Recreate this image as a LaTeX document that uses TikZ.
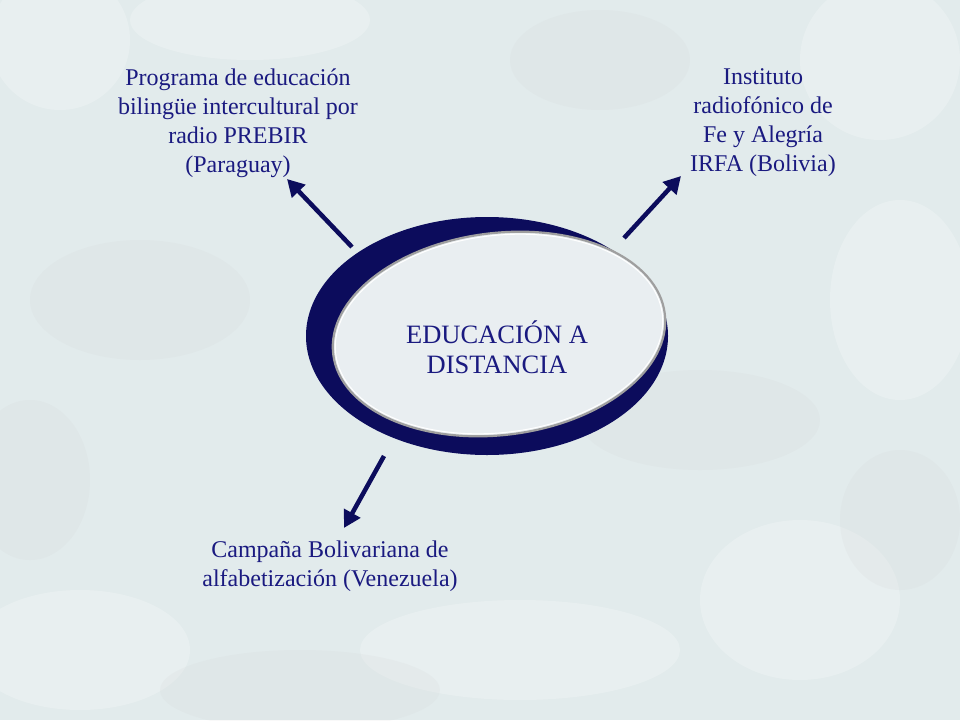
\documentclass[tikz,border=0pt]{standalone}
\usepackage{fontspec}
\setmainfont{Liberation Serif}
\definecolor{bgbase}{HTML}{E2EBEC}
\definecolor{navy}{HTML}{0C0C5C}
\definecolor{txtblue}{HTML}{1A1A80}
\definecolor{innerfill}{HTML}{E9EEF1}
\tikzset{
  label/.style={align=center, text=txtblue, font=\fontsize{24}{29}\selectfont, inner sep=0pt},
  centerlabel/.style={align=center, text=txtblue, font=\fontsize{26.5}{30}\selectfont, inner sep=0pt},
  arr/.style={draw=navy, line width=4.5pt, -{Triangle[length=17pt,width=18pt]}},
  blob/.style={fill=white, opacity=0.22},
  gblob/.style={fill=gray!40, opacity=0.12}
}
\usetikzlibrary{arrows.meta}
\begin{document}
\begin{tikzpicture}[x=1pt,y=-1pt]
\useasboundingbox (0,0) rectangle (960,720);
\fill[bgbase] (0,0) rectangle (960,720);
% soft background texture
\fill[blob] (60,40) circle (70);
\fill[blob] (250,20) ellipse (120 and 40);
\fill[blob] (880,60) circle (80);
\fill[blob] (900,300) ellipse (70 and 100);
\fill[blob] (80,650) ellipse (110 and 60);
\fill[blob] (520,650) ellipse (160 and 50);
\fill[blob] (800,600) ellipse (100 and 80);
\fill[gblob] (140,300) ellipse (110 and 60);
\fill[gblob] (700,420) ellipse (120 and 50);
\fill[gblob] (300,690) ellipse (140 and 40);
\fill[gblob] (600,60) ellipse (90 and 50);
\fill[gblob] (30,480) ellipse (60 and 80);
\fill[gblob] (900,520) ellipse (60 and 70);
% ring
\fill[navy] (487,336) ellipse (181 and 119);
\filldraw[fill=innerfill, draw=gray!75, line width=2.2pt, rotate around={7:(499,334)}] (499,334) ellipse (167 and 101);
\draw[white, line width=1pt, rotate around={7:(499,334)}] (499,334) ellipse (164.5 and 98.5);
\node[centerlabel] (center) at (497,347) {EDUCACIÓN A\\DISTANCIA};
% labels
\node[label] (prebir) at (238,123) {Programa de educación\\bilingüe intercultural por\\radio PREBIR\\(Paraguay)};
\node[label] (irfa) at (763,123) {Instituto\\radiofónico de\\Fe y Alegría\\IRFA (Bolivia)};
\node[label] (campana) at (330,566) {Campaña Bolivariana de\\alfabetización (Venezuela)};
% arrows
\coordinate (s1) at (352,247);
\coordinate (e1) at (287,179);
\coordinate (s2) at (624,238);
\coordinate (e2) at (681,176);
\coordinate (s3) at (384,456);
\coordinate (e3) at (344,528);
\draw[arr] (s1) -- (e1);
\draw[arr] (s2) -- (e2);
\draw[arr] (s3) -- (e3);
\end{tikzpicture}
\end{document}
